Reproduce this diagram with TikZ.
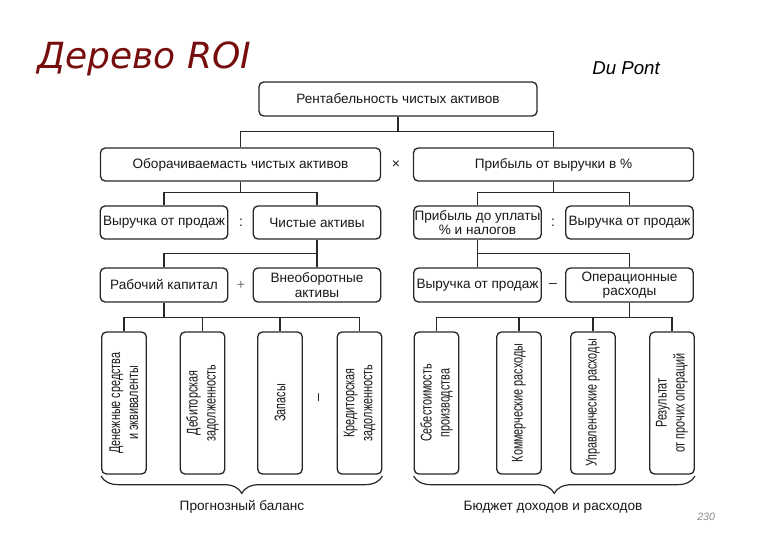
\documentclass[tikz,border=0pt]{standalone}
\usepackage{fontspec}
\setmainfont{Liberation Sans}
\newfontfamily\narrowfont[FakeStretch=0.7]{Liberation Sans}
\newfontfamily\titlefont{DejaVu Sans}
\usetikzlibrary{decorations.pathreplacing}
\definecolor{linec}{RGB}{40,40,40}
\definecolor{textc}{RGB}{25,25,25}
\definecolor{titlec}{RGB}{118,14,14}
\tikzset{
  box/.style={draw=linec, line width=1pt, rounded corners=3.5pt, inner sep=0pt,
    align=center, text=textc, font=\fontsize{10.2}{10.8}\selectfont},
  wide/.style={box, minimum width=210pt, minimum height=24.75pt},
  mid/.style={box, minimum width=95.6pt, minimum height=24.75pt},
  tall/.style={box, minimum width=33.4pt, minimum height=106.5pt},
  vtext/.style={rotate=90, align=center, text=textc, inner sep=0pt,
    font=\narrowfont\fontsize{11.6}{13.5}\selectfont},
  op/.style={text=textc, inner sep=0pt, font=\fontsize{10.5}{11}\selectfont},
  conn/.style={draw=linec, line width=0.9pt},
  bracestyle/.style={draw=linec, line width=0.9pt, decorate,
    decoration={brace, mirror, amplitude=13pt, raise=1pt}},
  caption/.style={text=textc, inner sep=0pt, font=\fontsize{10.2}{12}\selectfont}
}
\begin{document}
\begin{tikzpicture}[x=0.75pt, y=-0.75pt]
\useasboundingbox[fill=white] (0,0) rectangle (780,540);

% title
\node[anchor=base west, inner sep=0pt, text=titlec,
  font=\titlefont\itshape\fontsize{27}{30}\selectfont] (title) at (37,68) {Дерево ROI};
\node[anchor=base west, inner sep=0pt, font=\itshape\fontsize{14}{16}\selectfont] (dupont) at (592,74) {Du Pont};
\node[anchor=base west, inner sep=0pt, text=black!45, font=\itshape\fontsize{8}{9}\selectfont] (pagenum) at (697,520) {230};

% level 1
\node[box, minimum width=208.5pt, minimum height=25.5pt] (top) at (398,99) {Рентабельность чистых активов};

% level 2
\node[wide] (L2a) at (240.5,164.5) {Оборачиваемасть чистых активов};
\node[wide] (L2b) at (553.5,164.5) {Прибыль от выручки в \%};
\node[op] (opx) at (396,165) {×};

% level 3
\node[mid] (L3a) at (164,222.5) {Выручка от продаж};
\node[mid] (L3b) at (317,222.5) {Чистые активы};
\node[mid] (L3c) at (477.5,222.5) {Прибыль до уплаты\\\% и налогов};
\node[mid] (L3d) at (629.5,222.5) {Выручка от продаж};
\node[op] (opd1) at (241,223) {:};
\node[op] (opd2) at (553,223) {:};

% level 4
\node[mid, minimum height=25.5pt] (L4a) at (164,285) {Рабочий капитал};
\node[mid, minimum height=25.5pt] (L4b) at (317,285) {Внеоборотные\\активы};
\node[mid, minimum height=25.5pt] (L4c) at (477.5,285) {Выручка от продаж};
\node[mid, minimum height=25.5pt] (L4d) at (629.5,285) {Операционные\\расходы};
\node[op, text=black!55] (opplus) at (241,285) {+};
\node[op] (opminus) at (553,285) {–};

% level 5 left
\node[tall] (a1) at (124,403) {};
\node[tall] (a2) at (202.5,403) {};
\node[tall] (a3) at (280,403) {};
\node[tall] (a4) at (359.5,403) {};
\node[vtext] (ta1) at (a1) {Денежные средства\\и эквиваленты};
\node[vtext] (ta2) at (a2) {Дебиторская\\задолженность};
\node[vtext] (ta3) at (a3) {Запасы};
\node[vtext] (ta4) at (a4) {Кредиторская\\задолженность};
\node[op, rotate=90] (opv) at (320,398) {–};

% level 5 right
\node[tall] (b1) at (436.5,403) {};
\node[tall] (b2) at (519,403) {};
\node[tall] (b3) at (593,403) {};
\node[tall] (b4) at (672,403) {};
\node[vtext] (tb1) at (b1) {Себестоимость\\производства};
\node[vtext] (tb2) at (b2) {Коммерческие расходы};
\node[vtext] (tb3) at (b3) {Управленческие расходы};
\node[vtext] (tb4) at (b4) {Результат\\от прочих операций};

% connectors
\draw[conn] (top.south) -- ++(0,15) coordinate (j1);
\draw[conn] (L2a.north) |- (j1) -| (L2b.north);

\draw[conn] (L2a.south) -- ++(0,11) coordinate (j2a);
\draw[conn] (L3a.north) |- (j2a) -| (L3b.north);
\draw[conn] (L2b.south) -- ++(0,11) coordinate (j2b);
\draw[conn] (L3c.north) |- (j2b) -| (L3d.north);

\draw[conn] (L3b.south) -- ++(0,14) coordinate (j3a);
\draw[conn] (L4a.north) |- (j3a) -| (L4b.north);
\draw[conn] (L3c.south) -- ++(0,14) coordinate (j3b);
\draw[conn] (L4c.north) |- (j3b) -| (L4d.north);

\draw[conn] (L4a.south) -- ++(0,15) coordinate (j4a);
\draw[conn] (a1.north) |- (j4a) -| (a4.north);
\draw[conn] (a2.north) -- (a2.north |- j4a);
\draw[conn] (a3.north) -- (a3.north |- j4a);
\draw[conn] (L4d.south) -- ++(0,15) coordinate (j4b);
\draw[conn] (b1.north) |- (j4b) -| (b4.north);
\draw[conn] (b2.north) -- (b2.north |- j4b);
\draw[conn] (b3.north) -- (b3.north |- j4b);

% braces
\draw[bracestyle] (a1.south west) -- (a4.south east);
\draw[bracestyle] (b1.south west) -- (b4.south east);
\node[caption] (capa) at (242,507) {Прогнозный баланс};
\node[caption] (capb) at (553,507) {Бюджет доходов и расходов};
\end{tikzpicture}
\end{document}
